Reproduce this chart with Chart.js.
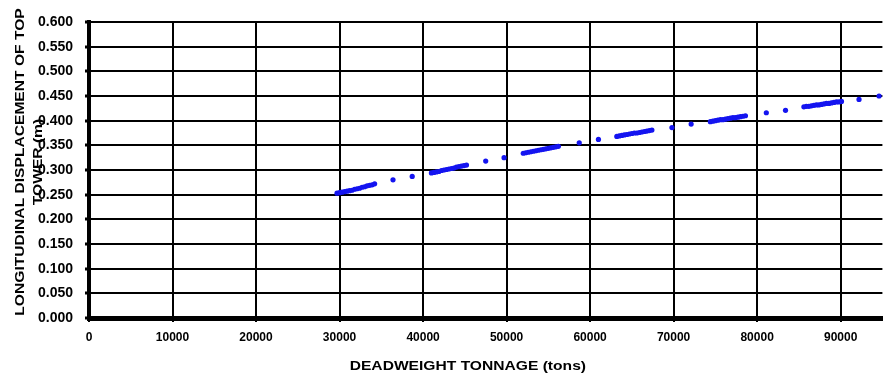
<!DOCTYPE html>
<html>
<head>
<meta charset="utf-8">
<script src="https://cdn.jsdelivr.net/npm/chart.js@4.4.1/dist/chart.umd.min.js"></script>
<style>
  html, body { margin: 0; padding: 0; background: #fff; }
  #wrap { width: 885px; height: 378px; position: relative; }
</style>
</head>
<body>
<div id="wrap"><canvas id="c"></canvas></div>
<script>
// Deadweight tonnage (tons) of each vessel case
const tonnage = [
  29700, 30000, 30300, 30600, 30900, 31200, 31500, 31800, 32100, 32400, 32700, 33000, 33300, 33600, 33900, 34200,
  36400, 38700,
  41000, 41300, 41600, 41900, 42200, 42500, 42800, 43100, 43400, 43700, 44000, 44300, 44600, 44900, 45200,
  47500, 49700,
  52000, 52300, 52600, 52900, 53200, 53500, 53800, 54100, 54400, 54700, 55000, 55300, 55600, 55900, 56200,
  58700, 61000,
  63200, 63500, 63800, 64100, 64400, 64700, 65000, 65300, 65600, 65900, 66200, 66500, 66800, 67100, 67400,
  69800, 72100,
  74400, 74700, 75000, 75300, 75600, 75900, 76200, 76500, 76800, 77100, 77400, 77700, 78000, 78300, 78600,
  81100, 83400,
  85600, 85900, 86200, 86500, 86800, 87100, 87400, 87700, 88000, 88300, 88600, 88900, 89200, 89500, 89800, 90100,
  92200, 94600
];

// Longitudinal displacement of the tower top (m)
const displacement = [
  0.253, 0.254, 0.255, 0.256, 0.257, 0.258, 0.259, 0.261, 0.262, 0.263, 0.265, 0.266, 0.268, 0.269, 0.270, 0.272,
  0.280, 0.287,
  0.294, 0.295, 0.296, 0.297, 0.299, 0.300, 0.301, 0.302, 0.303, 0.304, 0.306, 0.307, 0.308, 0.309, 0.310,
  0.318, 0.325,
  0.334, 0.335, 0.336, 0.337, 0.338, 0.339, 0.340, 0.341, 0.342, 0.343, 0.344, 0.345, 0.346, 0.347, 0.348,
  0.355, 0.362,
  0.368, 0.369, 0.370, 0.371, 0.372, 0.373, 0.374, 0.375, 0.375, 0.376, 0.377, 0.378, 0.379, 0.380, 0.381,
  0.386, 0.393,
  0.398, 0.399, 0.400, 0.401, 0.402, 0.402, 0.403, 0.404, 0.405, 0.406, 0.406, 0.407, 0.408, 0.409, 0.410,
  0.416, 0.421,
  0.428, 0.429, 0.429, 0.430, 0.431, 0.432, 0.432, 0.433, 0.434, 0.435, 0.435, 0.436, 0.437, 0.438, 0.438, 0.439,
  0.443, 0.450
];

// Axis tick labels
const xTickValues = [0, 10000, 20000, 30000, 40000, 50000, 60000, 70000, 80000, 90000];
const yTickLabels = ['0.000', '0.050', '0.100', '0.150', '0.200', '0.250', '0.300',
                     '0.350', '0.400', '0.450', '0.500', '0.550', '0.600'];

const xTitle = 'DEADWEIGHT TONNAGE (tons)';
const yTitleLines = ['LONGITUDINAL DISPLACEMENT OF TOP', 'TOWER (m)'];

const points = tonnage.map((t, i) => ({ x: t, y: displacement[i] }));

// Axis titles drawn next to the plot area, in a wide bold face
const axisTitles = {
  id: 'axisTitles',
  afterDraw(chart) {
    const { ctx, chartArea: a } = chart;
    ctx.save();
    ctx.fillStyle = '#000';
    ctx.textAlign = 'center';
    ctx.textBaseline = 'middle';
    ctx.font = 'bold 12px "Liberation Sans", Arial, sans-serif';

    ctx.save();
    ctx.translate(a.left + (a.right - a.left) * 0.4775, a.bottom + 49);
    ctx.scale(1.3, 1);
    ctx.fillText(xTitle, 0, 0);
    ctx.restore();

    ctx.font = 'bold 13px "Liberation Sans", Arial, sans-serif';
    ctx.translate(a.left, (a.top + a.bottom) / 2 - 8);
    ctx.rotate(-Math.PI / 2);
    ctx.scale(1.2, 1);
    ctx.fillText(yTitleLines[0], 0, -69);
    ctx.fillText(yTitleLines[1], 0, -51);
    ctx.restore();
  }
};

new Chart(document.getElementById('c'), {
  type: 'scatter',
  data: {
    datasets: [{
      data: points,
      backgroundColor: '#1414f0',
      borderWidth: 0,
      pointRadius: 2.6,
      pointHoverRadius: 2.6
    }]
  },
  options: {
    responsive: true,
    maintainAspectRatio: false,
    animation: false,
    events: [],
    layout: { padding: { top: 22, right: 2, left: 0, bottom: 0 } },
    plugins: { legend: { display: false }, tooltip: { enabled: false } },
    scales: {
      x: {
        type: 'linear',
        min: 0,
        max: 95000,
        afterBuildTicks(scale) {
          scale.ticks = xTickValues.map(v => ({ value: v }));
        },
        afterFit(scale) { scale.height = 60; },
        ticks: {
          color: '#000',
          padding: 8,
          maxRotation: 0,
          font: { family: '"Liberation Sans", Arial, sans-serif', size: 12, weight: 'bold' },
          callback: v => String(v)
        },
        grid: { color: '#000', lineWidth: 2, tickLength: 4, tickWidth: 2, drawTicks: true },
        border: { color: '#000', width: 5 }
      },
      y: {
        min: 0,
        max: 0.6,
        afterBuildTicks(scale) {
          scale.ticks = yTickLabels.map(s => ({ value: parseFloat(s) }));
        },
        afterFit(scale) { scale.width = 89; },
        ticks: {
          color: '#000',
          padding: 12,
          font: { family: '"Liberation Sans", Arial, sans-serif', size: 14, weight: 'bold' },
          callback: v => yTickLabels.find(s => parseFloat(s) === v)
        },
        grid: { color: '#000', lineWidth: 2, tickLength: 4, tickWidth: 3 },
        border: { color: '#000', width: 4 }
      }
    }
  },
  plugins: [axisTitles]
});
</script>
</body>
</html>
